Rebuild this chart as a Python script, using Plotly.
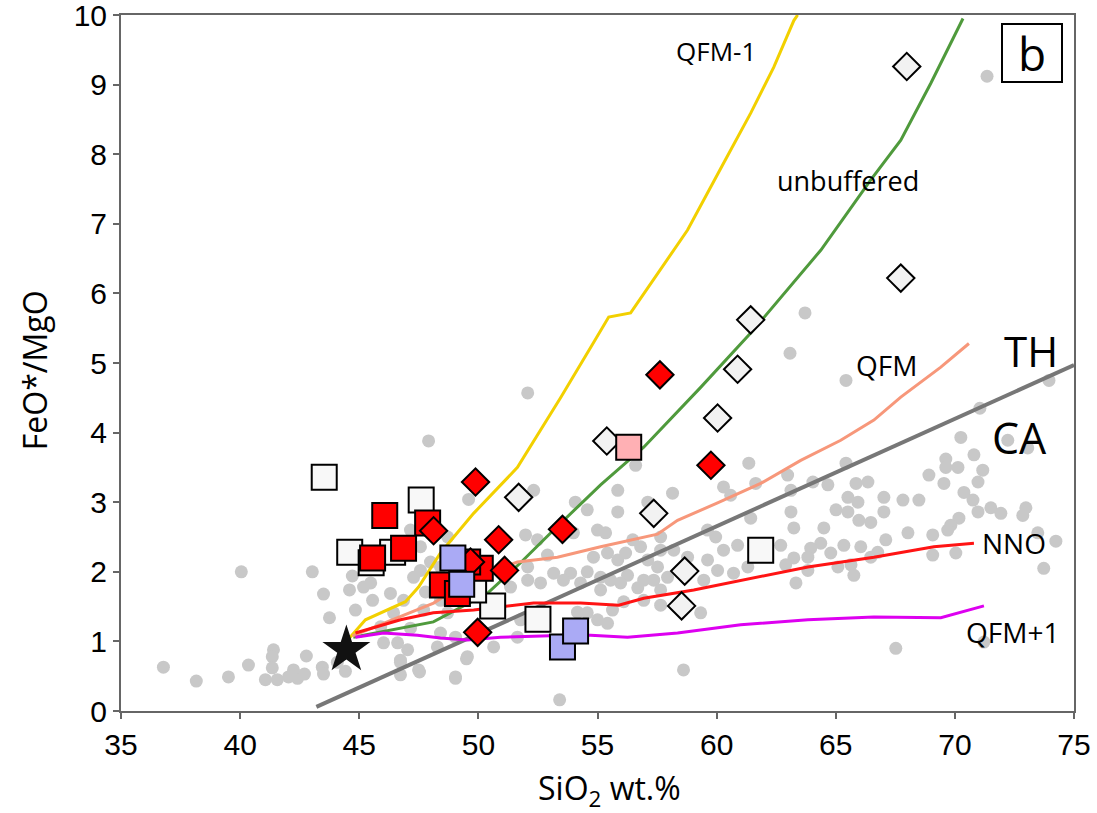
import plotly.graph_objects as go

# ---------------- data ----------------
# background gray dots (SiO2, FeO*/MgO)
gray_x = [40.05, 43.03, 44.71, 43.50, 44.59, 44.84, 43.75, 41.40, 41.35, 42.78, 36.78, 40.35, 41.35, 42.24,
          38.16, 39.51, 41.06, 41.56, 42.03, 42.41, 42.70, 43.45, 43.50, 44.08, 44.42,
          46.73, 46.73, 47.53, 49.04, 49.50, 53.41,
          52.07, 47.91, 49.59, 52.32, 48.71, 47.15, 51.98, 52.48, 52.90, 47.57, 47.99, 48.41, 47.57, 47.28,
          45.48, 46.31, 45.56, 47.78, 48.41, 47.70, 48.71, 46.44, 45.90, 47.15, 48.41, 46.61, 47.03, 48.28,
          49.04, 49.54, 46.73, 47.49, 49.04, 50.64, 51.64, 51.77, 52.32, 50.81, 51.35, 52.07, 52.61, 53.16,
          52.07, 46.86, 45.18, 46.02,
          56.60, 55.85, 58.15, 60.29, 60.59, 54.07, 54.57, 55.85, 57.11, 53.99, 55.00, 55.34, 56.48, 57.65,
          59.62, 59.96, 60.29, 60.88, 54.83, 55.42, 55.85, 56.18, 56.81, 57.11, 57.52, 57.65, 58.20, 58.78,
          59.62, 60.04, 60.71, 53.87, 54.57, 55.13, 55.55, 56.26, 56.94, 57.36, 57.94, 59.46, 53.57, 54.29,
          55.13, 55.97, 56.69, 57.65, 56.10, 56.94, 57.65, 54.16, 54.57, 55.63, 55.00, 55.42, 59.33, 58.61,
          63.71, 63.08, 65.43, 61.35, 61.64, 62.98, 65.43, 63.12, 64.04, 64.67, 65.85, 66.35, 65.51, 65.93,
          67.02, 67.82, 63.12, 65.01, 65.51, 67.02, 61.43, 65.97, 66.47, 63.24, 64.50, 68.03, 62.69, 64.37,
          65.34, 66.05, 67.10, 63.95, 63.24, 63.83, 64.79, 66.47, 66.76, 62.90, 65.09, 65.64, 63.83, 65.76,
          61.31, 63.33, 67.52,
          73.95, 71.05, 70.25, 72.22, 73.06, 70.80, 69.62, 69.62, 70.13, 71.17, 68.91, 69.54, 70.97, 70.38,
          68.49, 70.76, 70.97, 71.51, 71.93, 72.98, 72.85, 70.17, 69.83, 69.70, 69.07, 69.07, 70.04, 73.48,
          74.24, 73.73, 71.22, 71.35]
gray_y = [2.00, 2.00, 1.94, 1.68, 1.74, 1.45, 1.34, 0.88, 0.78, 0.79, 0.63, 0.66, 0.62, 0.59,
          0.43, 0.49, 0.45, 0.45, 0.49, 0.47, 0.53, 0.63, 0.53, 0.70, 0.57,
          0.70, 0.52, 0.56, 0.47, 0.75, 0.16,
          4.57, 3.88, 3.04, 3.17, 2.50, 2.60, 2.53, 2.46, 2.24, 2.36, 2.14, 2.07, 2.02, 1.92,
          1.84, 1.69, 1.59, 1.71, 1.59, 1.45, 1.41, 1.41, 1.21, 1.19, 1.12, 0.98, 0.88, 0.92,
          1.06, 0.78, 0.73, 0.59, 0.49, 0.92, 1.06, 1.31, 1.41, 1.41, 1.78, 1.88, 1.84, 1.98,
          2.07, 1.59, 1.78, 0.98,
          3.53, 3.17, 3.13, 3.22, 3.10, 3.00, 2.89, 2.86, 3.00, 2.56, 2.60, 2.56, 2.46, 2.50,
          2.60, 2.50, 2.31, 2.38, 2.21, 2.27, 2.17, 2.27, 2.36, 2.17, 2.07, 2.31, 2.31, 2.21,
          2.17, 2.02, 1.98, 1.98, 2.00, 1.92, 1.88, 1.95, 1.88, 1.88, 1.92, 1.88, 1.88, 1.84,
          1.74, 1.84, 1.77, 1.74, 1.57, 1.59, 1.52, 1.42, 1.41, 1.45, 1.31, 1.26, 1.41, 0.59,
          5.72, 5.14, 4.75, 3.56, 3.27, 3.39, 3.56, 3.17, 3.29, 3.25, 3.27, 3.29, 3.07, 3.00,
          3.07, 3.03, 2.86, 2.89, 2.86, 2.86, 2.77, 2.74, 2.71, 2.63, 2.63, 2.56, 2.38, 2.41,
          2.38, 2.36, 2.46, 2.34, 2.20, 2.21, 2.27, 2.21, 2.28, 2.10, 2.07, 2.10, 2.02, 1.95,
          2.07, 1.84, 0.90,
          4.75, 4.35, 3.93, 3.89, 3.78, 3.68, 3.62, 3.50, 3.50, 3.46, 3.39, 3.27, 3.29, 3.14,
          3.03, 3.03, 2.86, 2.92, 2.84, 2.92, 2.81, 2.77, 2.67, 2.60, 2.53, 2.24, 2.27, 2.56,
          2.44, 2.05, 0.99, 9.12]

# TH / CA dividing line
thca_x = [43.2, 75.0]
thca_y = [0.06, 4.97]

# fractionation models
qfm_m1_x = [44.59, 45.26, 46.94, 47.49, 48.41, 49.80, 51.64, 53.45, 54.83, 55.47, 56.39, 57.52, 58.78, 60.29, 61.43, 62.40, 63.24, 63.40]
qfm_m1_y = [1.05, 1.31, 1.57, 1.78, 2.27, 2.84, 3.50, 4.50, 5.29, 5.66, 5.72, 6.29, 6.91, 7.87, 8.59, 9.25, 9.92, 10.0]

unbuf_x = [44.75, 48.11, 50.38, 51.77, 53.16, 55.13, 56.94, 59.33, 61.43, 62.98, 64.37, 66.47, 67.73, 68.99, 70.34]
unbuf_y = [1.06, 1.28, 1.69, 2.13, 2.60, 3.25, 3.79, 4.65, 5.43, 6.05, 6.62, 7.63, 8.20, 9.02, 9.95]

qfm_x = [44.72, 48.12, 49.80, 51.64, 53.32, 55.13, 57.52, 58.36, 60.04, 61.85, 63.53, 65.21, 66.60, 67.73, 69.41, 70.59]
qfm_y = [1.08, 1.55, 1.92, 2.14, 2.21, 2.36, 2.54, 2.74, 2.99, 3.27, 3.60, 3.89, 4.18, 4.51, 4.94, 5.28]

nno_x = [44.84, 46.73, 48.11, 49.80, 52.32, 54.29, 55.89, 56.94, 59.04, 61.01, 63.83, 66.60, 69.12, 70.80]
nno_y = [1.12, 1.31, 1.41, 1.45, 1.55, 1.55, 1.52, 1.62, 1.74, 1.88, 2.07, 2.21, 2.36, 2.41]

qfm_p1_x = [44.84, 46.02, 47.44, 48.41, 49.54, 50.93, 53.74, 54.71, 56.26, 58.36, 61.01, 63.83, 66.60, 69.41, 71.22]
qfm_p1_y = [1.06, 1.12, 1.09, 1.05, 1.02, 1.06, 1.09, 1.09, 1.06, 1.12, 1.24, 1.31, 1.35, 1.34, 1.51]

# samples
white_sq_x = [43.53, 47.60, 44.60, 45.50, 46.40, 50.60, 52.50, 49.80, 61.85]
white_sq_y = [3.36, 3.03, 2.28, 2.13, 2.28, 1.51, 1.32, 1.74, 2.31]

red_sq_x = [46.07, 47.87, 46.86, 45.56, 50.08, 48.49, 49.12, 49.55]
red_sq_y = [2.81, 2.70, 2.34, 2.20, 2.05, 1.81, 1.69, 2.14]

red_dia_x = [49.88, 48.12, 50.85, 51.10, 49.97, 53.53, 49.67, 57.62, 59.76]
red_dia_y = [3.29, 2.59, 2.46, 2.02, 1.13, 2.61, 2.14, 4.83, 3.53]

blue_sq_x = [48.93, 49.30, 53.53, 54.08]
blue_sq_y = [2.20, 1.82, 0.92, 1.15]

pink_sq_x = [56.31]
pink_sq_y = [3.79]

white_dia_x = [55.39, 51.69, 57.36, 58.66, 58.53, 60.04, 60.88, 61.43, 67.73, 67.98]
white_dia_y = [3.88, 3.07, 2.84, 2.01, 1.51, 4.21, 4.91, 5.62, 6.22, 9.26]

star_x = [44.46]
star_y = [0.88]

x_ticks = [35, 40, 45, 50, 55, 60, 65, 70, 75]
y_ticks = [0, 1, 2, 3, 4, 5, 6, 7, 8, 9, 10]

# ---------------- figure ----------------
fig = go.Figure()

fig.add_trace(go.Scatter(x=gray_x, y=gray_y, mode="markers",
                         marker=dict(size=13, color="#c8c8c8", line=dict(width=0))))

fig.add_trace(go.Scatter(x=thca_x, y=thca_y, mode="lines", line=dict(color="#777777", width=4)))

for xs, ys, col in [(qfm_m1_x, qfm_m1_y, "#f2d000"),
                    (unbuf_x, unbuf_y, "#4f9a3c"),
                    (qfm_x, qfm_y, "#f7977a"),
                    (nno_x, nno_y, "#ff1414"),
                    (qfm_p1_x, qfm_p1_y, "#dd00f0")]:
    fig.add_trace(go.Scatter(x=xs, y=ys, mode="lines", line=dict(color=col, width=3)))

def pts(xs, ys, symbol, size, fill):
    fig.add_trace(go.Scatter(x=xs, y=ys, mode="markers",
                             marker=dict(symbol=symbol, size=size, color=fill,
                                         line=dict(color="black", width=2))))

pts(white_sq_x, white_sq_y, "square", 25, "#f8f8f8")
pts(red_sq_x, red_sq_y, "square", 25, "#ff0000")
pts(red_dia_x, red_dia_y, "diamond", 21, "#ff0000")
pts(blue_sq_x, blue_sq_y, "square", 25, "#aaaaf5")
pts(white_dia_x, white_dia_y, "diamond", 21, "#f2f2f2")
pts(pink_sq_x, pink_sq_y, "square", 25, "#ffb0b4")

fig.add_trace(go.Scatter(x=star_x, y=star_y, mode="markers",
                         marker=dict(symbol="star", size=36, color="#111111", line=dict(width=0))))

lab_font = dict(family="Open Sans, Noto Sans, sans-serif", color="black")
labels = [("QFM-1", 59.96, 9.49, 26), ("unbuffered", 65.5, 7.62, 27), ("QFM", 67.14, 4.97, 28),
          ("TH", 73.19, 5.18, 42), ("CA", 72.7, 3.93, 43), ("NNO", 72.48, 2.41, 28),
          ("QFM+1", 72.43, 1.13, 28)]
for t, x, y, s in labels:
    fig.add_annotation(x=x, y=y, text=t, showarrow=False, font=dict(size=s, **lab_font))

fig.add_annotation(xref="paper", yref="paper", x=0.956, y=0.946, xanchor="center", yanchor="middle",
                   text="b", showarrow=False,
                   font=dict(size=46, family="Open Sans, Noto Sans, sans-serif", color="black"),
                   bordercolor="black", borderwidth=2, bgcolor="white", borderpad=0,
                   width=58, height=56)

title_font = dict(family="Open Sans, Noto Sans, sans-serif", size=32, color="black")
fig.add_annotation(xref="paper", yref="paper", x=0.513, y=-0.113, xanchor="center", yanchor="middle",
                   text="SiO<sub>2</sub> wt.%", showarrow=False, font=title_font)
fig.add_annotation(xref="paper", yref="paper", x=-0.090, y=0.49, xanchor="center", yanchor="middle",
                   text="FeO*/MgO", textangle=-90, showarrow=False, font=title_font)

axis_common = dict(showline=True, mirror=True, linecolor="#666666", linewidth=2,
                   ticks="outside", ticklen=6, tickwidth=2, tickcolor="#666666",
                   showgrid=False, zeroline=False, automargin=False, ticklabeloverflow="allow",
                   tickfont=dict(family="Liberation Sans, Arial, sans-serif", size=30, color="black"))

fig.update_layout(
    width=1097, height=813,
    margin=dict(l=121, r=23, t=15, b=102),
    paper_bgcolor="white", plot_bgcolor="white",
    showlegend=False,
    xaxis=dict(range=[35, 75], tickvals=x_ticks, **axis_common),
    yaxis=dict(range=[0, 10], tickvals=y_ticks, **axis_common),
)

fig.write_html("out.html")
